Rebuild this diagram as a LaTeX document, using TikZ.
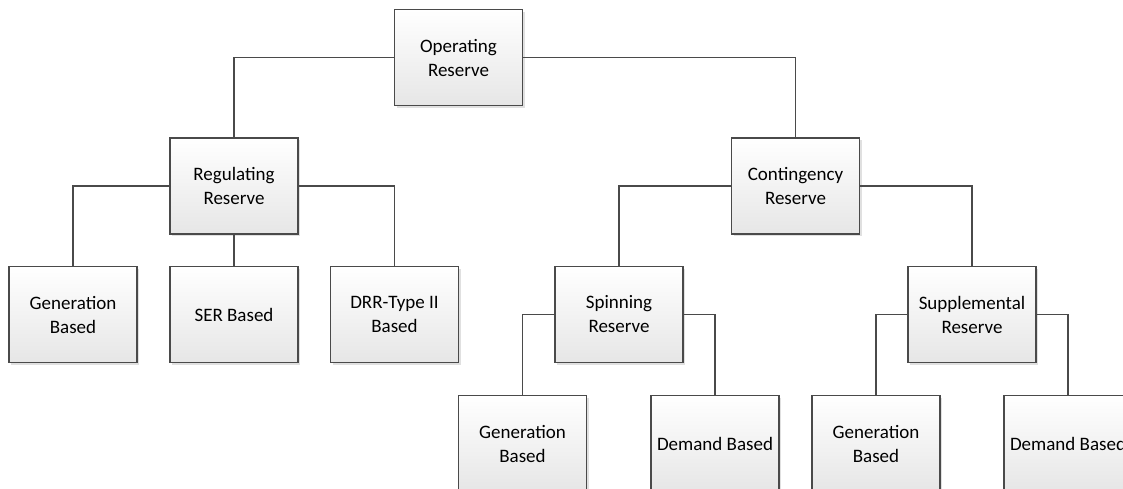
\documentclass[tikz,border=0pt]{standalone}
\usepackage{fontspec}
\setmainfont{Carlito}
\usetikzlibrary{shadows}
\definecolor{edgegray}{HTML}{4A4A4A}
\definecolor{boxbottom}{HTML}{E6E6E6}
\tikzset{
  box/.style={draw=edgegray, line width=1.2pt, top color=white, bottom color=boxbottom,
    minimum width=128pt, minimum height=96pt, inner sep=0pt, align=center,
    font=\fontsize{19pt}{24pt}\selectfont, text=black,
    drop shadow={shadow xshift=2pt, shadow yshift=-2pt, fill=black, opacity=0.12}},
  link/.style={draw=edgegray, line width=1.3pt}
}
\begin{document}
\begin{tikzpicture}[x=1pt,y=-1pt]
\useasboundingbox (0,0) rectangle (1123,488);
\clip (0,0) rectangle (1123,488);
\fill[white] (0,0) rectangle (1123,488);
% nodes
\node[box] (op)   at (458.5,57.5) {Operating\\Reserve};
\node[box] (reg)  at (234,186)    {Regulating\\Reserve};
\node[box] (con)  at (795.5,186)  {Contingency\\Reserve};
\node[box] (rgen) at (73,314.5)   {Generation\\Based};
\node[box] (rser) at (234,314.5)  {SER Based};
\node[box] (rdrr) at (394.5,314.5){DRR-Type II\\Based};
\node[box] (spin) at (619,314.5)  {Spinning\\Reserve};
\node[box] (supp) at (972,314.5)  {Supplemental\\Reserve};
\node[box] (sgen) at (522.5,443.5){Generation\\Based};
\node[box] (sdem) at (715,443.5)  {Demand Based};
\node[box] (pgen) at (876,443.5)  {Generation\\Based};
\node[box] (pdem) at (1068,443.5) {Demand Based};
% connectors
\draw[link] (op.west) -| (reg.north);
\draw[link] (op.east) -| (con.north);
\draw[link] (reg.west) -| (rgen.north);
\draw[link] (reg.south) -- (rser.north);
\draw[link] (reg.east) -| (rdrr.north);
\draw[link] (con.west) -| (spin.north);
\draw[link] (con.east) -| (supp.north);
\draw[link] (spin.west) -| (sgen.north);
\draw[link] (spin.east) -| (sdem.north);
\draw[link] (supp.west) -| (pgen.north);
\draw[link] (supp.east) -| (pdem.north);
\end{tikzpicture}
\end{document}
